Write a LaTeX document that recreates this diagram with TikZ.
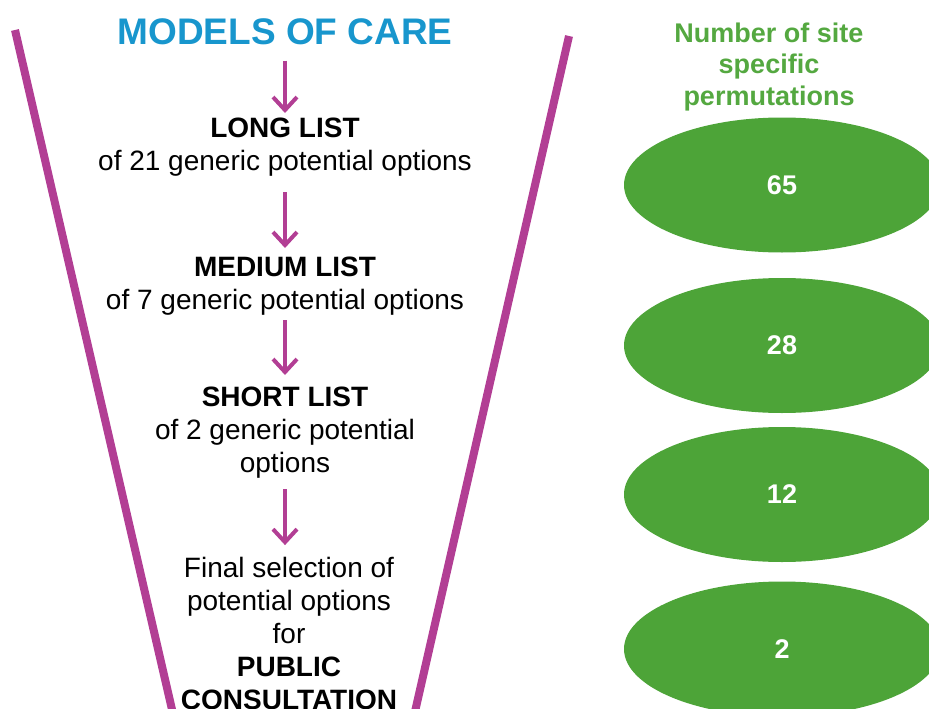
\documentclass[tikz,border=0pt]{standalone}
\usepackage{fontspec}
\setmainfont{Liberation Sans}
\usetikzlibrary{arrows.meta,shapes.geometric}

\definecolor{funnel}{RGB}{178,62,148}
\definecolor{careblue}{RGB}{24,150,205}
\definecolor{sitegreen}{RGB}{77,164,56}
\definecolor{headgreen}{RGB}{84,168,64}

\begin{document}
\begin{tikzpicture}[x=1pt,y=-1pt,
  title/.style={anchor=base, inner sep=0pt, text=careblue, font=\fontsize{37}{37}\selectfont\bfseries},
  stage/.style={anchor=north, inner sep=0pt, align=center, font=\fontsize{28}{33}\selectfont},
  flow/.style={draw=funnel, line width=4pt, -{Straight Barb[length=13pt,width=24pt]}},
  wall/.style={draw=funnel, line width=8pt},
  perm/.style={ellipse, fill=sitegreen, text=white, minimum width=316pt, minimum height=135pt, inner sep=0pt, font=\fontsize{27}{27}\selectfont\bfseries}]
%\draw [lightgray, step=50](0,0) grid (929,709);
\useasboundingbox (0,0) rectangle (929,709);

\draw [wall](15,30) -- (173.5,716);
\draw [wall](569,36) -- (414,716);

\node [title] (models) at (285,45) {MODELS OF CARE};

\node [stage] (long) at (285,117.5) {\textbf{LONG LIST}\\of 21 generic potential options};
\node [stage] (medium) at (285,256.5) {\textbf{MEDIUM LIST}\\of 7 generic potential options};
\node [stage] (short) at (285,386.5) {\textbf{SHORT LIST}\\of 2 generic potential\\options};
\node [stage] (final) at (289,556.6) {Final selection of\\potential options\\for\\\textbf{PUBLIC}\\\textbf{CONSULTATION}};

\draw [flow, shorten <=15pt, shorten >=4.5pt](models.south) -- (models.south |- long.north);
\draw [flow, shorten <=16pt, shorten >=8.5pt](long.south) -- (long.south |- medium.north);
\draw [flow, shorten <=5pt, shorten >=11.5pt](medium.south) -- (medium.south |- short.north);
\draw [flow, shorten <=11pt, shorten >=11.5pt](short.south) -- (short.south |- final.north);

\node [anchor=north, inner sep=0pt, align=center, text=headgreen, font=\fontsize{27}{31.5}\selectfont\bfseries] (count) at (769,22.7) {Number of site\\specific\\permutations};

\node [perm] (p65) at (782,185) {65};
\node [perm] (p28) at (782,345.5) {28};
\node [perm] (p12) at (782,494.5) {12};
\node [perm] (p2) at (782,649) {2};

\end{tikzpicture}
\end{document}
